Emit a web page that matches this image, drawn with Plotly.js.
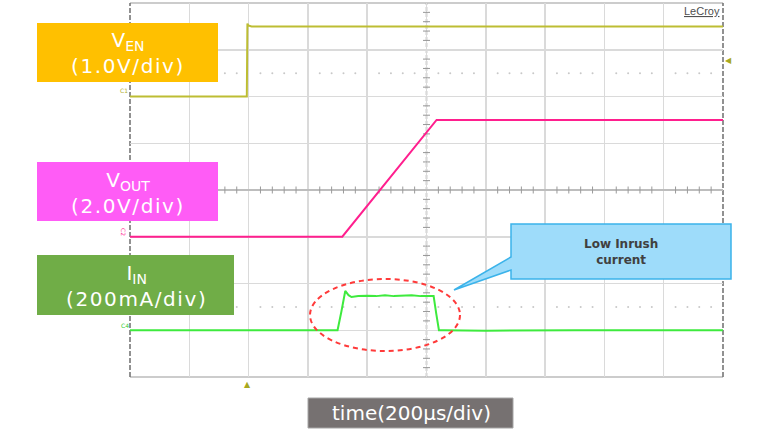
<!DOCTYPE html>
<html>
<head>
<meta charset="utf-8">
<script src="https://cdn.plot.ly/plotly-3.0.1.min.js"></script>
<style>
html,body{margin:0;padding:0;background:#fff;}
#chart{width:768px;height:432px;}
</style>
</head>
<body>
<div id="chart"></div>
<script>
// ---- data (time in µs, amplitude in screen divisions) ----
const venTimeUs = [-1000, -700, -606, -604, -601, -590, -400, -200, 0, 200, 400, 600, 800, 1000];
const venDiv    = [2.0, 2.0, 2.0, 3.56, 3.52, 3.50, 3.50, 3.50, 3.50, 3.51, 3.50, 3.50, 3.50, 3.50];

const voutTimeUs = [-1000, -600, -284, 34, 200, 600, 1000];
const voutDiv    = [-1.0, -1.0, -1.0, 1.5, 1.5, 1.5, 1.5];

const iinTimeUs = [-1000, -600, -300, -287, -274, -263, -253, -230, -200, -170, -140, -110, -80, -50, -20, 10, 24, 33, 42, 60, 200, 500, 1000];
const iinDiv    = [-3.0, -3.0, -3.0, -2.6, -2.16, -2.25, -2.29, -2.27, -2.26, -2.27, -2.25, -2.27, -2.26, -2.25, -2.27, -2.26, -2.27, -2.65, -3.0, -3.0, -3.01, -3.0, -3.0];

const channelLabels = ["V<sub>EN</sub>", "V<sub>OUT</sub>", "I<sub>IN</sub>"];
const scaleLabels = ["(1.0V/div)", "(2.0V/div)", "(200mA/div)"];
const timeLabel = "time(200µs/div)";
const calloutLabel = "<b>Low Inrush</b><br><b>current</b>";
const brandLabel = "LeCroy";
const triggerTimeUs = -605;

// ---- geometry helpers (pixel -> paper) ----
const L = 130, R = 723, T = 3, B = 377;
const X = p => (p - L) / (R - L);
const Y = p => (B - p) / (B - T);

// decorative ticks on the centre axes and dotted rows
const tickVx = [], tickVy = [], tickHx = [], tickHy = [], dotX = [], dotY = [];
for (let i = -20; i <= 20; i++) { if (i % 5 !== 0) { tickVx.push(0); tickVy.push(i * 0.2); } }
for (let i = -25; i <= 25; i++) { if (i % 5 !== 0) { tickHx.push(i * 40); tickHy.push(0); } }
for (let i = -25; i <= 25; i++) { if (i % 5 !== 0) { dotX.push(i * 40, i * 40); dotY.push(2.5, -2.5); } }

const traces = [
  {x: dotX, y: dotY, mode: 'markers', marker: {color: '#c8c8c8', size: 2}, hoverinfo: 'skip'},
  {x: tickVx, y: tickVy, mode: 'markers', marker: {symbol: 'line-ew', size: 5, line: {color: '#959595', width: 1}}, hoverinfo: 'skip'},
  {x: tickHx, y: tickHy, mode: 'markers', marker: {symbol: 'line-ns', size: 5, line: {color: '#9a9a9a', width: 1}}, hoverinfo: 'skip'},
  {x: venTimeUs, y: venDiv, mode: 'lines', line: {color: '#bdbd33', width: 2}},
  {x: voutTimeUs, y: voutDiv, mode: 'lines', line: {color: '#ff1f8e', width: 2}},
  {x: iinTimeUs, y: iinDiv, mode: 'lines', line: {color: '#3eea3e', width: 2}}
];

const boxFont = {family: 'DejaVu Sans', size: 20, color: '#ffffff'};
const sp = t => '<span style="letter-spacing:1.6px">' + t + '</span>';

function ann(x, y, text, font, extra) {
  return Object.assign({xref: 'paper', yref: 'paper', x: X(x), y: Y(y), text: text, showarrow: false,
    xanchor: 'center', yanchor: 'middle', font: font}, extra || {});
}

const annotations = [
  ann(128, 53, channelLabels[0] + '<br>' + sp(scaleLabels[0]), boxFont),
  ann(128, 193, channelLabels[1] + '<br>' + sp(scaleLabels[1]), boxFont),
  ann(136, 286, channelLabels[2] + '<br>' + sp(scaleLabels[2]), boxFont),
  ann(411, 413, timeLabel, {family: 'DejaVu Sans', size: 20, color: '#ffffff'}),
  ann(621, 252, calloutLabel, {family: 'DejaVu Sans', size: 12, color: '#404040'}),
  ann(702, 11, '<u>' + brandLabel + '</u>', {family: 'Liberation Sans', size: 11, color: '#505050'}),
  ann(124, 90, 'C1', {family: 'DejaVu Sans', size: 6, color: '#b0b030'}),
  ann(124, 232, 'C2', {family: 'DejaVu Sans', size: 6, color: '#ff3399'}, {textangle: 90}),
  ann(125, 325, 'C4', {family: 'DejaVu Sans', size: 6, color: '#33cc33'}),
  // trigger position marker (bottom) and VEN trigger-level marker (right)
  Object.assign(ann(0, 384, '▲', {family: 'DejaVu Sans', size: 8, color: '#a8a820'}), {xref: 'x', x: triggerTimeUs}),
  ann(728, 61, '◀', {family: 'DejaVu Sans', size: 8, color: '#a8a820'})
];

const rect = (x0, y0, x1, y1, fill, line) => ({type: 'rect', xref: 'paper', yref: 'paper', layer: 'above',
  x0: X(x0), x1: X(x1), y0: Y(y1), y1: Y(y0), fillcolor: fill, line: line || {width: 0}});

const calloutPath = 'M ' + [[511,224],[731,224],[731,279],[511,279],[511,270],[454,290],[511,257]]
  .map(p => X(p[0]) + ',' + Y(p[1])).join(' L ') + ' Z';

const shapes = [
  // borders
  {type: 'line', xref: 'paper', yref: 'paper', x0: 0, x1: 1, y0: 1, y1: 1, line: {color: '#cccccc', width: 2}, layer: 'below'},
  {type: 'line', xref: 'paper', yref: 'paper', x0: 0, x1: 1, y0: 0, y1: 0, line: {color: '#cccccc', width: 2}, layer: 'below'},
  {type: 'line', xref: 'paper', yref: 'paper', x0: 0, x1: 0, y0: 0, y1: 1, line: {color: '#6e6e6e', width: 1.5, dash: '5px,2px'}, layer: 'below'},
  {type: 'line', xref: 'paper', yref: 'paper', x0: 1, x1: 1, y0: 0, y1: 1, line: {color: '#6e6e6e', width: 1.5, dash: '5px,2px'}, layer: 'below'},
  {type: 'line', xref: 'x', yref: 'paper', x0: 0, x1: 0, y0: 0, y1: 1, line: {color: '#a0a0a0', width: 1.5, dash: '4px,2px'}, layer: 'below'},
  // label boxes
  rect(37, 23, 218, 82, '#ffc000'),
  rect(37, 162, 218, 221, '#ff5cf6'),
  rect(37, 255, 234, 315, '#70ad47'),
  rect(308, 398, 513, 428, '#767171', {color: '#a6a6a6', width: 1}),
  // callout
  {type: 'path', xref: 'paper', yref: 'paper', layer: 'above', path: calloutPath, fillcolor: '#9edcfa', line: {color: '#3bb3ea', width: 1.5}},
  // ellipse
  {type: 'circle', xref: 'paper', yref: 'paper', layer: 'above', x0: X(310), x1: X(460), y0: Y(351), y1: Y(279),
   line: {color: '#ff3a3a', width: 2, dash: '5px,4px'}}
];

const layout = {
  width: 768, height: 432,
  margin: {l: L, r: 768 - R, t: T, b: 432 - B, pad: 0},
  paper_bgcolor: '#ffffff', plot_bgcolor: '#ffffff',
  showlegend: false,
  xaxis: {range: [-1000, 1000], tick0: 0, dtick: 200, showgrid: true, gridcolor: '#dadada', gridwidth: 1.5,
    zeroline: false, showticklabels: false, ticks: '', showline: false, fixedrange: true},
  yaxis: {range: [-4, 4], tick0: 0, dtick: 1, showgrid: true, gridcolor: '#dadada', gridwidth: 1.5,
    zeroline: true, zerolinecolor: '#bdbdbd', zerolinewidth: 1.5, showticklabels: false, ticks: '', showline: false, fixedrange: true},
  shapes: shapes,
  annotations: annotations
};

Plotly.newPlot('chart', traces, layout, {staticPlot: true, displayModeBar: false});
</script>
</body>
</html>
